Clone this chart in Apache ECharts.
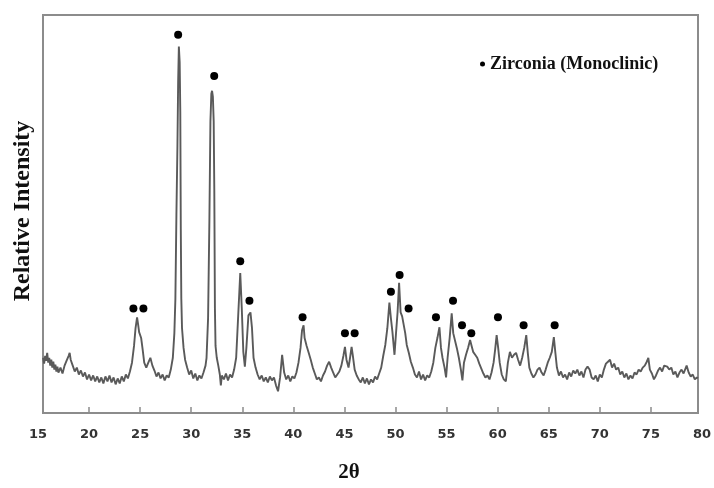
<!DOCTYPE html>
<html>
<head>
<meta charset="utf-8">
<script src="https://cdn.jsdelivr.net/npm/echarts@6/dist/echarts.min.js"></script>
<style>html,body{margin:0;padding:0;background:#fff}#c{width:714px;height:488px}</style>
</head>
<body>
<div id="c"></div>
<script>
// XRD scan: [2theta, relative intensity]
const scan = [[15.5,50],[15.6,44],[15.7,52],[15.8,47],[15.9,55],[16.0,45],[16.1,50],[16.2,42],[16.3,48],[16.4,40],[16.5,46],[16.6,38],[16.7,43],[16.8,36],[16.9,41],[17.0,35],[17.2,40],[17.4,34],[17.6,42],[17.8,47],[18.0,52],[18.1,55],[18.2,48],[18.4,42],[18.6,36],[18.8,40],[19.0,33],[19.2,37],[19.4,31],[19.6,35],[19.8,28],[20.0,33],[20.2,27],[20.4,32],[20.6,26],[20.8,31],[21.0,25],[21.2,30],[21.4,24],[21.6,31],[21.8,26],[22.0,32],[22.2,25],[22.4,30],[22.6,23],[22.8,29],[23.0,24],[23.2,31],[23.4,26],[23.6,33],[23.8,29],[24.0,36],[24.2,45],[24.4,62],[24.55,80],[24.7,91],[24.8,84],[24.9,76],[25.0,78],[25.1,70],[25.25,58],[25.4,45],[25.6,40],[25.8,45],[26.0,50],[26.2,42],[26.4,37],[26.6,31],[26.8,35],[27.0,29],[27.2,33],[27.4,27],[27.6,32],[27.8,30],[28.0,38],[28.2,50],[28.35,75],[28.45,110],[28.55,195],[28.65,265],[28.72,330],[28.79,366],[28.87,350],[28.93,300],[28.98,180],[29.03,110],[29.1,80],[29.25,60],[29.4,48],[29.6,40],[29.8,33],[30.0,37],[30.2,29],[30.4,34],[30.6,27],[30.8,32],[31.0,29],[31.2,35],[31.4,42],[31.5,50],[31.65,90],[31.78,190],[31.88,290],[31.97,318],[32.04,321],[32.12,315],[32.2,290],[32.26,220],[32.32,100],[32.38,62],[32.5,50],[32.65,42],[32.8,33],[32.9,22],[33.0,32],[33.2,28],[33.4,34],[33.6,27],[33.8,33],[34.0,30],[34.2,38],[34.4,50],[34.6,93],[34.8,136],[34.95,100],[35.1,56],[35.25,41],[35.4,60],[35.6,93],[35.8,96],[35.95,80],[36.1,50],[36.3,40],[36.5,33],[36.7,28],[36.9,32],[37.1,26],[37.3,30],[37.5,25],[37.7,31],[37.9,27],[38.1,30],[38.3,22],[38.5,16],[38.7,30],[38.9,53],[39.1,35],[39.3,28],[39.5,32],[39.7,26],[39.9,31],[40.1,29],[40.3,35],[40.5,45],[40.7,60],[40.85,78],[41.0,83],[41.1,70],[41.3,62],[41.5,55],[41.7,48],[41.9,40],[42.1,34],[42.3,28],[42.5,30],[42.7,26],[42.9,32],[43.1,36],[43.3,42],[43.5,46],[43.7,40],[43.9,35],[44.1,30],[44.3,33],[44.5,36],[44.7,42],[44.9,52],[45.05,61],[45.2,48],[45.4,40],[45.55,50],[45.7,61],[45.85,50],[46.0,38],[46.2,32],[46.4,28],[46.6,25],[46.8,30],[47.0,24],[47.2,29],[47.4,23],[47.6,28],[47.8,25],[48.0,31],[48.2,28],[48.4,34],[48.6,40],[48.8,52],[49.0,63],[49.2,80],[49.4,106],[49.55,90],[49.7,76],[49.9,53],[50.05,75],[50.2,96],[50.35,126],[50.5,96],[50.65,92],[50.8,90],[50.95,75],[51.1,63],[51.3,55],[51.5,46],[51.7,40],[51.9,33],[52.1,30],[52.3,36],[52.5,28],[52.7,33],[52.9,27],[53.1,32],[53.3,30],[53.5,36],[53.7,45],[53.9,60],[54.1,70],[54.3,81],[54.45,60],[54.6,50],[54.8,40],[54.95,30],[55.1,50],[55.3,70],[55.5,95],[55.65,75],[55.8,73],[56.0,60],[56.2,50],[56.4,38],[56.55,27],[56.7,45],[56.9,53],[57.1,60],[57.3,68],[57.45,62],[57.6,56],[57.8,53],[58.0,50],[58.2,44],[58.4,39],[58.6,34],[58.8,30],[59.0,32],[59.2,28],[59.4,35],[59.6,45],[59.75,58],[59.9,73],[60.05,60],[60.2,45],[60.4,33],[60.6,28],[60.8,26],[61.0,45],[61.2,56],[61.4,50],[61.6,53],[61.8,55],[62.0,48],[62.2,42],[62.4,50],[62.6,60],[62.8,73],[62.95,55],[63.1,40],[63.3,34],[63.5,30],[63.7,33],[63.9,38],[64.1,40],[64.3,35],[64.5,32],[64.7,38],[64.9,45],[65.1,50],[65.3,56],[65.5,71],[65.65,55],[65.8,40],[66.0,32],[66.2,36],[66.4,30],[66.6,33],[66.8,28],[67.0,35],[67.2,31],[67.4,37],[67.6,34],[67.8,38],[68.0,32],[68.2,36],[68.4,30],[68.6,38],[68.8,41],[69.0,38],[69.2,30],[69.4,28],[69.6,32],[69.8,26],[70.0,33],[70.2,30],[70.4,38],[70.6,44],[70.8,46],[71.0,48],[71.2,40],[71.4,44],[71.6,38],[71.8,40],[72.0,33],[72.2,36],[72.4,30],[72.6,34],[72.8,28],[73.0,32],[73.2,29],[73.4,35],[73.6,33],[73.8,38],[74.0,36],[74.2,40],[74.4,42],[74.6,46],[74.75,50],[74.9,38],[75.1,34],[75.3,28],[75.5,32],[75.7,37],[75.9,40],[76.1,36],[76.3,42],[76.6,41],[76.8,38],[77.0,40],[77.2,33],[77.4,36],[77.6,30],[77.8,35],[78.0,38],[78.2,34],[78.5,42],[78.7,35],[78.9,31],[79.1,33],[79.3,28],[79.5,30],[79.6,29]];

// Zirconia (monoclinic) peak markers
const peakTheta = [24.34, 25.32, 28.72, 32.25, 34.8, 35.7, 40.9, 45.05, 46.0, 49.55, 50.4, 51.28, 53.96, 55.63, 56.51, 57.42, 60.03, 62.54, 65.58];
const peakMark  = [100, 100, 378, 336, 148, 108, 91, 75, 75, 117, 134, 100, 91, 108, 83, 75, 91, 83, 83];

const xTicks = [15, 20, 25, 30, 35, 40, 45, 50, 55, 60, 65, 70, 75, 80];
const innerTicks = [20, 25, 30, 35, 40, 45, 50, 55, 60, 65, 70, 75];

const chart = echarts.init(document.getElementById('c'), null, {renderer: 'canvas'});
chart.setOption({
  animation: false,
  backgroundColor: '#fff',
  grid: [
    {left: 38, right: 12, top: 15, bottom: 75, show: false},
    {left: 43, right: 16, top: 15, bottom: 75, show: true, borderColor: '#8c8c8c', borderWidth: 2, backgroundColor: 'transparent'}
  ],
  legend: {
    data: ['Zirconia (Monoclinic)'],
    left: 480, top: 55, padding: 0,
    icon: 'circle', itemWidth: 5, itemHeight: 5, itemGap: 5,
    textStyle: {fontFamily: 'Liberation Serif', fontWeight: 'bold', fontSize: 18, color: '#111'}
  },
  xAxis: [{
    type: 'value', gridIndex: 0, min: 15, max: 80, interval: 5,
    name: '2θ', nameLocation: 'middle', nameGap: 55,
    nameTextStyle: {fontFamily: 'Liberation Serif', fontWeight: 'bold', fontSize: 21, color: '#111', padding: [0, 42, 0, 0]},
    axisLine: {show: false},
    axisTick: {show: true, customValues: innerTicks, length: 5, lineStyle: {color: '#8c8c8c', width: 1.5}},
    axisLabel: {customValues: xTicks, margin: 21, fontFamily: 'DejaVu Sans', fontWeight: 'bold', fontSize: 13, color: '#333'},
    splitLine: {show: false}
  }, {
    type: 'value', gridIndex: 1, show: false, min: 0, max: 1
  }],
  yAxis: [{
    type: 'value', gridIndex: 0, min: 0, max: 398,
    name: 'Relative Intensity', nameLocation: 'middle', nameGap: 3, nameRotate: 90,
    nameTextStyle: {fontFamily: 'Liberation Serif', fontWeight: 'bold', fontSize: 24, color: '#111'},
    axisLine: {show: false}, axisTick: {show: false}, axisLabel: {show: false}, splitLine: {show: false}
  }, {
    type: 'value', gridIndex: 1, show: false, min: 0, max: 1
  }],
  series: [{
    type: 'line', name: 'scan', xAxisIndex: 0, yAxisIndex: 0,
    data: scan, showSymbol: false, symbol: 'none',
    lineStyle: {color: '#5a5a5a', width: 1.9}, z: 2
  }, {
    type: 'scatter', name: 'Zirconia (Monoclinic)', xAxisIndex: 0, yAxisIndex: 0,
    data: peakTheta.map((t, i) => [t, peakMark[i]]),
    symbol: 'circle', symbolSize: 8, itemStyle: {color: '#000', opacity: 1}, z: 3
  }]
});
</script>
</body>
</html>
